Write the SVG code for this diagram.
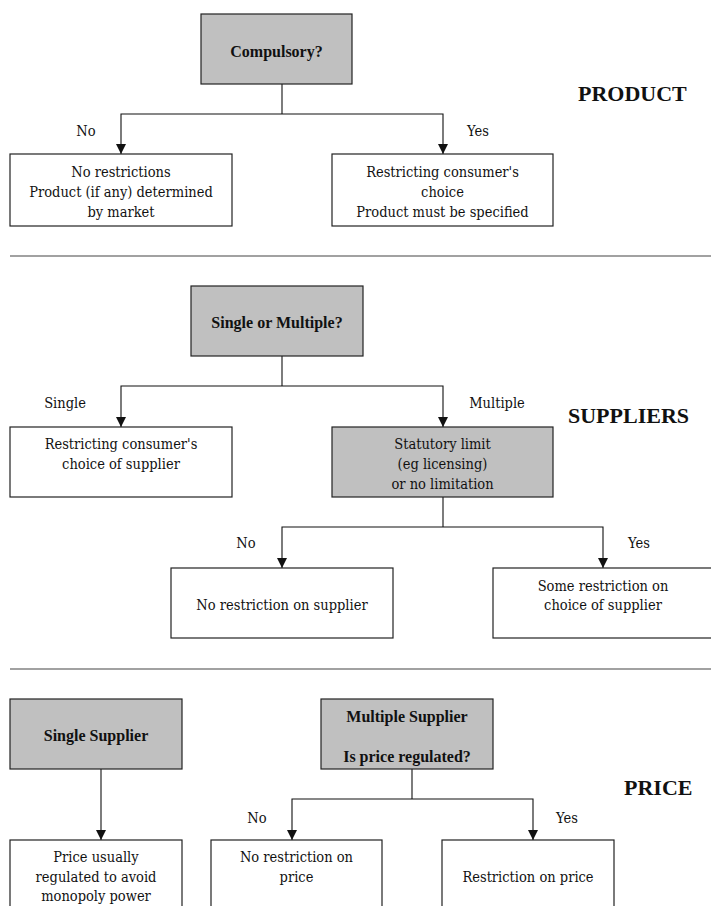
<svg xmlns="http://www.w3.org/2000/svg" width="711" height="906" viewBox="0 0 711 906">
  <style>
    .box { fill: #ffffff; stroke: #222; stroke-width: 1.2; }
    .gray { fill: #c0c0c0; stroke: #222; stroke-width: 1.2; }
    text { font-family: 'Liberation Serif', 'Times New Roman', Times, serif; fill: #111; }
    .t { font-family: 'DejaVu Serif Condensed', 'DejaVu Serif', serif; font-size: 14.5px; text-anchor: middle; }
    .b { font-size: 16px; font-weight: bold; text-anchor: middle; }
    .h { font-size: 22px; font-weight: bold; }
    .c { fill: none; stroke: #111; stroke-width: 1.1; }
    .sep { stroke: #444; stroke-width: 1.2; }
  </style>
  <defs>
    <marker id="arr" markerUnits="userSpaceOnUse" markerWidth="10" markerHeight="10" viewBox="0 0 10 10" refX="10" refY="5" orient="auto">
      <path d="M0,0 L10,5 L0,10 z" fill="#111"/>
    </marker>
  </defs>
  <rect width="711" height="906" fill="#ffffff"/>

  <g id="separators">
    <line class="sep" x1="10" y1="256" x2="711" y2="256"/>
    <line class="sep" x1="10" y1="669" x2="711" y2="669"/>
  </g>

  <g id="section-titles">
    <text class="h" x="578" y="101">PRODUCT</text>
    <text class="h" x="568" y="423">SUPPLIERS</text>
    <text class="h" x="624" y="795">PRICE</text>
  </g>

  <g id="connectors">
    <path class="c" d="M282,84 V114"/>
    <path class="c" d="M282,114 H121 V154" marker-end="url(#arr)"/>
    <path class="c" d="M282,114 H443 V154" marker-end="url(#arr)"/>
    <path class="c" d="M282,356 V386"/>
    <path class="c" d="M282,386 H121 V427" marker-end="url(#arr)"/>
    <path class="c" d="M282,386 H443 V427" marker-end="url(#arr)"/>
    <path class="c" d="M443,497 V527"/>
    <path class="c" d="M443,527 H282 V568" marker-end="url(#arr)"/>
    <path class="c" d="M443,527 H603 V568" marker-end="url(#arr)"/>
    <path class="c" d="M101,769 V840" marker-end="url(#arr)"/>
    <path class="c" d="M412,769 V799"/>
    <path class="c" d="M412,799 H292 V840" marker-end="url(#arr)"/>
    <path class="c" d="M412,799 H533 V840" marker-end="url(#arr)"/>
  </g>

  <g id="connector-labels">
    <text class="t" x="86" y="136">No</text>
    <text class="t" x="478" y="136">Yes</text>
    <text class="t" x="65" y="408">Single</text>
    <text class="t" x="497" y="408">Multiple</text>
    <text class="t" x="246" y="548">No</text>
    <text class="t" x="639" y="548">Yes</text>
    <text class="t" x="257" y="823">No</text>
    <text class="t" x="567" y="823">Yes</text>
  </g>

  <g id="n-compulsory">
    <rect class="gray" x="201" y="14" width="151" height="70"/>
    <text class="b" x="276.5" y="57">Compulsory?</text>
  </g>
  <g id="n-no-restrictions">
    <rect class="box" x="10" y="154" width="222" height="72"/>
    <text class="t" x="121" y="177">No restrictions</text>
    <text class="t" x="121" y="197">Product (if any) determined</text>
    <text class="t" x="121" y="217">by market</text>
  </g>
  <g id="n-restricting-choice">
    <rect class="box" x="332" y="154" width="221" height="72"/>
    <text class="t" x="442.5" y="177">Restricting consumer's</text>
    <text class="t" x="442.5" y="197">choice</text>
    <text class="t" x="442.5" y="217">Product must be specified</text>
  </g>

  <g id="n-single-or-multiple">
    <rect class="gray" x="191" y="286" width="172" height="70"/>
    <text class="b" x="277" y="328">Single or Multiple?</text>
  </g>
  <g id="n-restricting-supplier">
    <rect class="box" x="10" y="427" width="222" height="70"/>
    <text class="t" x="121" y="449">Restricting consumer's</text>
    <text class="t" x="121" y="469">choice of supplier</text>
  </g>
  <g id="n-statutory">
    <rect class="gray" x="332" y="427" width="221" height="70"/>
    <text class="t" x="442.5" y="449">Statutory limit</text>
    <text class="t" x="442.5" y="469">(eg licensing)</text>
    <text class="t" x="442.5" y="489">or no limitation</text>
  </g>
  <g id="n-no-restriction-supplier">
    <rect class="box" x="171" y="568" width="222" height="70"/>
    <text class="t" x="282" y="610">No restriction on supplier</text>
  </g>
  <g id="n-some-restriction">
    <rect class="box" x="493" y="568" width="220" height="70"/>
    <text class="t" x="603" y="591">Some restriction on</text>
    <text class="t" x="603" y="610">choice of supplier</text>
  </g>

  <g id="n-single-supplier">
    <rect class="gray" x="10" y="699" width="172" height="70"/>
    <text class="b" x="96" y="741">Single Supplier</text>
  </g>
  <g id="n-multiple-supplier">
    <rect class="gray" x="321" y="699" width="172" height="70"/>
    <text class="b" x="407" y="722">Multiple Supplier</text>
    <text class="b" x="407" y="762">Is price regulated?</text>
  </g>
  <g id="n-price-usually">
    <rect class="box" x="10" y="840" width="172" height="80"/>
    <text class="t" x="96" y="862">Price usually</text>
    <text class="t" x="96" y="882">regulated to avoid</text>
    <text class="t" x="96" y="901">monopoly power</text>
  </g>
  <g id="n-no-restriction-price">
    <rect class="box" x="211" y="840" width="171" height="80"/>
    <text class="t" x="296.5" y="862">No restriction on</text>
    <text class="t" x="296.5" y="882">price</text>
  </g>
  <g id="n-restriction-price">
    <rect class="box" x="442" y="840" width="172" height="80"/>
    <text class="t" x="528" y="882">Restriction on price</text>
  </g>
</svg>
